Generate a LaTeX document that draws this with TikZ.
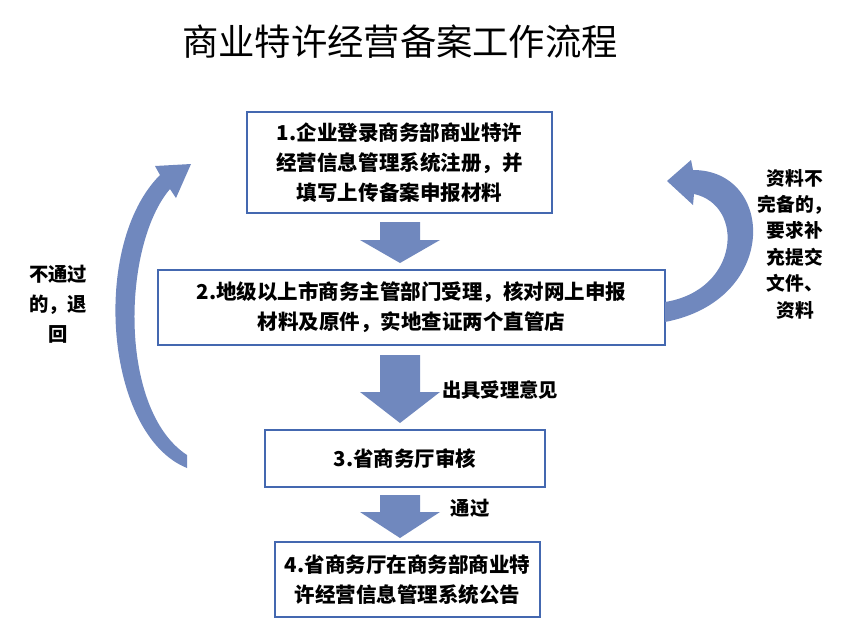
\documentclass[tikz,border=0pt]{standalone}
\usepackage{fontspec}
\newfontfamily\cjk{Noto Sans CJK SC}
\begin{document}
\begin{tikzpicture}[x=0.03cm,y=-0.03cm,
  box/.style={draw=boxblue,line width=2.2pt,fill=white,inner sep=0pt,align=center,font=\cjk\bfseries\fontsize{17.5}{25.5}\selectfont},
  lbl/.style={font=\cjk\bfseries\fontsize{16.5}{20}\selectfont,align=center},
  blk/.style={fill=arrowblue,draw=none}]
\definecolor{boxblue}{RGB}{68,104,176}
\definecolor{arrowblue}{RGB}{112,136,190}
\useasboundingbox (0,0) rectangle (865,639);
\node[font=\cjk\fontsize{31}{34}\selectfont] (title) at (400,42) {商业特许经营备案工作流程};
\node[box,minimum width=305*0.03cm,minimum height=101*0.03cm] (b1) at (399.5,162.5) {1.企业登录商务部商业特许\\经营信息管理系统注册，并\\填写上传备案申报材料};
\node[box,minimum width=507*0.03cm,minimum height=75*0.03cm] (b2) at (411.5,307.5) {2.地级以上市商务主管部门受理，核对网上申报\\材料及原件，实地查证两个直管店};
\node[box,minimum width=280*0.03cm,minimum height=57*0.03cm] (b3) at (405,458.5) {3.省商务厅审核};
\node[box,minimum width=265*0.03cm,minimum height=75*0.03cm] (b4) at (407.5,579.5) {4.省商务厅在商务部商业特\\许经营信息管理系统公告};
% down block arrows
\fill[blk] (380,222) -- (420,222) -- (420,240) -- (440,240) -- (400,263) -- (360,240) -- (380,240) -- cycle;
\fill[blk] (380,355) -- (420,355) -- (420,392) -- (440,392) -- (400,423) -- (360,392) -- (380,392) -- cycle;
\fill[blk] (380,495) -- (420,495) -- (420,512) -- (440,512) -- (400,538) -- (360,512) -- (380,512) -- cycle;
\node[lbl] (l1) at (500,390) {出具受理意见};
\node[lbl] (l2) at (470,508) {通过};
\node[lbl,font=\cjk\bfseries\fontsize{16.5}{25.5}\selectfont] (l3) at (58,304) {不通过\\的，退\\回};
\node[lbl,font=\cjk\bfseries\fontsize{16}{22.5}\selectfont] (l4) at (795,244) {资料不\\完备的，\\要求补\\充提交\\文件、\\资料};
% left curved arrow
\fill[blk] (187,468) .. controls (105,435) and (90,245) .. (160,175) -- (155,166) -- (191,164) -- (176,198) -- (170,189) .. controls (122,245) and (118,410) .. (187,455) -- cycle;
% right curved arrow
\fill[blk] (665,322) .. controls (780,300) and (775,170) .. (693,170) -- (691,160) -- (667,181) -- (693,205) -- (694,194) .. controls (745,205) and (740,290) .. (665,302) -- cycle;
\end{tikzpicture}
\end{document}
